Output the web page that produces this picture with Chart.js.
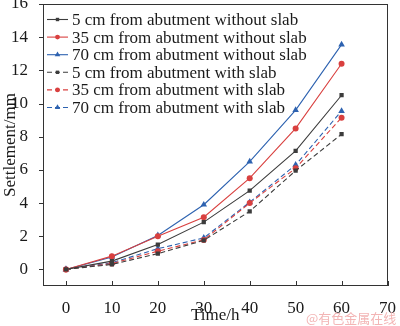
<!DOCTYPE html>
<html>
<head>
<meta charset="utf-8">
<script src="https://cdn.jsdelivr.net/npm/chart.js@4"></script>
<style>
  body { margin: 0; background: #fff; }
  #wrap { position: relative; width: 400px; height: 326px; }
  #chart { display: block; }
  #mark { position: absolute; left: 306px; top: 308px; font: 13px "Noto Sans CJK SC"; color: #f3b5b5; }
  .frame { position: absolute; box-sizing: border-box; border: 1px solid #333; pointer-events: none; }
  .tick { position: absolute; background: #333; pointer-events: none; }
</style>
</head>
<body>
<div id="wrap">
  <canvas id="chart" width="400" height="326"></canvas>
  <div id="mark">@有色金属在线</div>
</div>
<script>
const times = [0, 10, 20, 30, 40, 50, 60];
const xTicks = [0, 10, 20, 30, 40, 50, 60, 70];
const yTicks = [0, 2, 4, 6, 8, 10, 12, 14, 16];

const labels = [
  "5 cm from abutment without slab",
  "35 cm from abutment without slab",
  "70 cm from abutment without slab",
  "5 cm from abutment with slab",
  "35 cm from abutment with slab",
  "70 cm from abutment with slab"
];
const noSlab5 = [0, 0.5, 1.5, 2.85, 4.75, 7.15, 10.5];
const noSlab35 = [0, 0.8, 2.0, 3.15, 5.5, 8.5, 12.4];
const noSlab70 = [0, 0.75, 2.05, 3.9, 6.5, 9.6, 13.55];
const slab5 = [0, 0.3, 0.95, 1.75, 3.5, 5.95, 8.15];
const slab35 = [0, 0.35, 1.1, 1.78, 4.0, 6.1, 9.15];
const slab70 = [0, 0.4, 1.25, 1.9, 4.05, 6.3, 9.55];

const black = "#3c3c3c", red = "#d9403f", blue = "#2d62b0";

function series(label, values, color, shape, dashed) {
  return {
    label: label,
    data: values.map((v, i) => ({ x: times[i], y: v })),
    borderColor: color,
    backgroundColor: color,
    borderWidth: 1.1,
    borderDash: dashed ? [5, 3] : [],
    pointStyle: shape,
    pointRadius: shape === "triangle" ? 3.8 : 3,
    pointBorderWidth: 0,
    tension: 0
  };
}

// legend inside the plot, top left
const legendInside = {
  id: "legendInside",
  afterDraw(chart) {
    const ctx = chart.ctx;
    ctx.save();
    ctx.font = "17px 'Liberation Serif'";
    ctx.textBaseline = "middle";
    chart.data.datasets.forEach((ds, i) => {
      const y = 19.5 + i * 17.6;
      ctx.strokeStyle = ds.borderColor;
      ctx.fillStyle = ds.borderColor;
      ctx.lineWidth = 1.1;
      ctx.setLineDash(ds.borderDash);
      ctx.beginPath();
      ctx.moveTo(47, y); ctx.lineTo(68, y);
      ctx.stroke();
      ctx.setLineDash([]);
      Chart.helpers.drawPoint(ctx, { pointStyle: ds.pointStyle, radius: ds.pointRadius - 0.6, borderWidth: 0 }, 57.5, y);
      ctx.fillStyle = "#1a1a1a";
      ctx.fillText(ds.label, 72, y + 1);
    });
    ctx.restore();
  }
};

const font17 = { family: "Liberation Serif", size: 17 };

const chart = new Chart(document.getElementById("chart"), {
  type: "line",
  data: {
    datasets: [
      series(labels[0], noSlab5, black, "rect", false),
      series(labels[1], noSlab35, red, "circle", false),
      series(labels[2], noSlab70, blue, "triangle", false),
      series(labels[3], slab5, black, "rect", true),
      series(labels[4], slab35, red, "circle", true),
      series(labels[5], slab70, blue, "triangle", true)
    ]
  },
  options: {
    responsive: false,
    animation: false,
    layout: { padding: 0 },
    plugins: { legend: { display: false }, tooltip: { enabled: false } },
    scales: {
      x: {
        type: "linear",
        min: -5, max: 70,
        afterBuildTicks: s => { s.ticks = xTicks.map(v => ({ value: v })); },
        afterFit: s => { s.height = 40; },
        grid: { display: false },
        border: { display: false },
        ticks: { color: "#1a1a1a", padding: 4, font: font17 },
        title: { display: true, text: "Time/h", color: "#1a1a1a", padding: 0, font: font17 }
      },
      y: {
        min: -1, max: 16,
        afterBuildTicks: s => { s.ticks = yTicks.map(v => ({ value: v })); },
        afterFit: s => { s.width = 43; s.paddingTop = 4; s.paddingBottom = 0; },
        grid: { display: false },
        border: { display: false },
        ticks: { color: "#1a1a1a", padding: 7, font: font17 },
        title: { display: true, text: "Settlement/mm", color: "#1a1a1a", padding: 0, font: font17 }
      }
    }
  },
  plugins: [legendInside]
});

// box round the plot and tick marks, placed from the chart's own scales
(function () {
  const wrap = document.getElementById("wrap");
  const area = chart.chartArea;
  function addDiv(cls, x, y, w, h) {
    const d = document.createElement("div");
    d.className = cls;
    d.style.left = x + "px";
    d.style.top = y + "px";
    d.style.width = w + "px";
    d.style.height = h + "px";
    wrap.appendChild(d);
  }
  const aL = Math.round(area.left), aT = Math.round(area.top);
  const aR = Math.round(area.right), aB = Math.round(area.bottom);
  addDiv("frame", aL, aT, aR - aL, aB - aT);
  yTicks.forEach(v => {
    addDiv("tick", aL - 4, Math.round(chart.scales.y.getPixelForValue(v)), 4, 1);
  });
  xTicks.forEach(v => {
    addDiv("tick", Math.round(chart.scales.x.getPixelForValue(v)), aB - 5, 1, 5);
  });
})();
</script>
</body>
</html>
